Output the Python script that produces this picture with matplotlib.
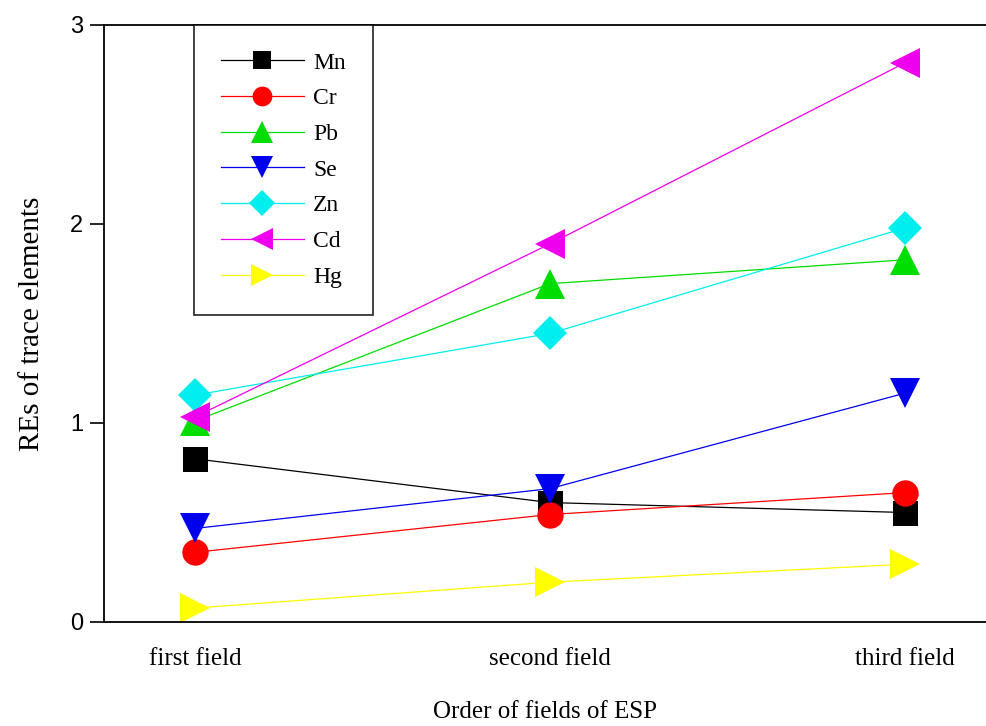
import matplotlib.pyplot as plt

fields = ["first field", "second field", "third field"]
x_pos = [1, 2, 3]

elements = ["Mn", "Cr", "Pb", "Se", "Zn", "Cd", "Hg"]
mn = [0.82, 0.60, 0.55]
cr = [0.35, 0.54, 0.65]
pb = [1.01, 1.70, 1.82]
se = [0.47, 0.67, 1.15]
zn = [1.14, 1.45, 1.98]
cd = [1.03, 1.90, 2.81]
hg = [0.07, 0.20, 0.29]
series = [mn, cr, pb, se, zn, cd, hg]

colors = ["#000000", "#ff0000", "#00dd00", "#0000ee", "#00eeee", "#ee00ee", "#ffff00"]
markers = ["s", "o", "^", "v", "D", "<", ">"]
sizes = [18, 19, 21, 21, 17, 21, 21]

fig = plt.figure(figsize=(9.86, 7.26), dpi=100)
ax = fig.add_axes([0.1055, 0.1433, 0.8945, 0.8223])

for name, vals, c, m, ms in zip(elements, series, colors, markers, sizes):
    ax.plot(x_pos, vals, color=c, linewidth=0.9, marker=m, markersize=ms,
            markeredgewidth=0, label=name)

ax.set_xlim(0.744, 3.228)
ax.set_ylim(0, 3)
ax.set_yticks([0, 1, 2, 3])
ax.set_xticks(x_pos)
ax.set_xticklabels(fields, family="Liberation Serif", fontsize=18)
for lab in ax.get_yticklabels():
    lab.set_family("Liberation Sans")
    lab.set_fontsize(17)
ax.tick_params(axis="y", direction="out", length=10, width=1.2, pad=5)
ax.tick_params(axis="x", length=0, pad=19)

ax.spines["right"].set_visible(False)
for s in ["left", "bottom", "top"]:
    ax.spines[s].set_linewidth(1.3)

ax.set_xlabel("Order of fields of ESP", family="Liberation Serif", fontsize=18, labelpad=22)
ax.set_ylabel("REs of trace elements", family="Liberation Serif", fontsize=21, labelpad=18)

leg = ax.legend(loc="upper left", bbox_to_anchor=(0.102, 1.0), frameon=True, fancybox=False,
                edgecolor="black", markerscale=0.75, handlelength=3.5, labelspacing=0.6,
                borderpad=1.15, handletextpad=0.4, borderaxespad=0,
                prop={"family": "Liberation Serif", "size": 17})
leg.get_frame().set_linewidth(1.3)

fig.savefig("out.png", dpi=100)
